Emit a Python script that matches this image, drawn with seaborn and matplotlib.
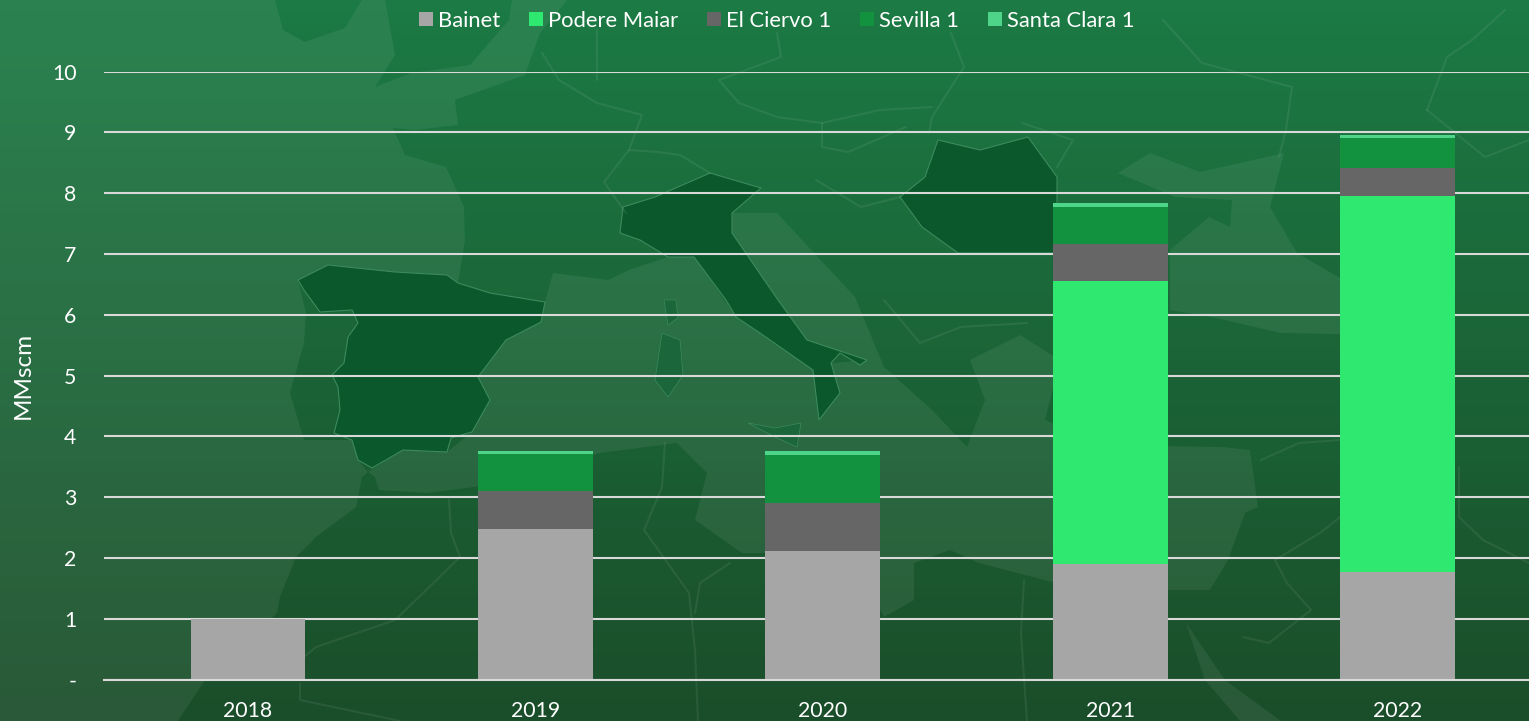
"""Stacked biomethane volumes per plant over a dark green map background."""

import matplotlib

matplotlib.use("Agg")

import matplotlib.pyplot as plt
import numpy as np
import seaborn as sns
from matplotlib.patches import Polygon

years = ["2018", "2019", "2020", "2021", "2022"]
bainet = [1.00, 2.48, 2.11, 1.90, 1.76]
podere_maiar = [0, 0, 0, 4.65, 6.19]
el_ciervo = [0, 0.62, 0.79, 0.61, 0.47]
sevilla = [0, 0.61, 0.79, 0.61, 0.49]
santa_clara = [0, 0.05, 0.07, 0.07, 0.04]

series_names = ["Bainet", "Podere Maiar", "El Ciervo 1", "Sevilla 1", "Santa Clara 1"]
series_values = [bainet, podere_maiar, el_ciervo, sevilla, santa_clara]
series_colors = ["#A6A6A6", "#2EE86F", "#666666", "#12923F", "#4FD58A"]
y_ticks = [0, 1, 2, 3, 4, 5, 6, 7, 8, 9, 10]
y_tick_labels = ["-", "1", "2", "3", "4", "5", "6", "7", "8", "9", "10"]

# background map, rough outlines in picture pixels
spain = [(298, 280), (328, 265), (395, 272), (447, 275), (458, 283), (490, 293), (545, 302), (541, 322),
         (506, 340), (478, 377), (490, 400), (472, 432), (451, 438), (447, 452), (403, 450), (372, 468),
         (358, 460), (352, 440), (334, 433), (340, 410), (338, 387), (332, 375), (344, 363), (348, 337),
         (358, 323), (352, 310), (320, 312), (304, 290)]
italy = [(620, 233), (623, 207), (655, 197), (710, 173), (761, 188), (732, 213), (732, 233), (778, 300),
         (807, 340), (837, 350), (867, 360), (860, 365), (840, 353), (831, 363), (840, 393), (819, 420),
         (813, 370), (760, 333), (736, 317), (726, 300), (694, 257), (668, 257), (640, 240)]
romania = [(925, 177), (938, 140), (980, 150), (1028, 137), (1057, 177), (1057, 253), (958, 253), (922, 227),
           (900, 197)]
sicily = [(748, 423), (775, 428), (801, 423), (797, 447), (775, 437)]
sardinia = [(662, 333), (680, 340), (683, 375), (668, 397), (655, 380)]
corsica = [(664, 300), (676, 300), (678, 318), (668, 325)]
dark_shapes = [spain, italy, romania]
island_shapes = [sicily, sardinia, corsica]

atlantic = [(0, 0), (275, 0), (283, 30), (305, 42), (345, 28), (362, 0), (385, 0), (395, 55), (375, 87), (411, 73),
            (470, 65), (509, 20), (512, 0), (567, 0), (540, 33), (525, 75), (455, 100), (458, 125), (415, 130),
            (393, 128), (405, 155), (446, 167), (464, 207), (465, 240), (458, 283), (447, 275), (395, 272),
            (328, 265), (298, 280), (306, 313), (304, 343), (290, 393), (304, 440), (352, 440), (358, 460),
            (368, 472), (362, 477), (356, 507), (316, 537), (296, 557), (280, 597), (277, 613), (205, 680),
            (178, 721), (0, 721)]
mediterranean = [(368, 472), (403, 450), (447, 452), (472, 432), (490, 400), (478, 377), (506, 340), (545, 302),
                 (553, 273), (608, 280), (629, 270), (668, 257), (694, 257), (736, 317), (813, 370), (819, 420),
                 (840, 393), (831, 363), (867, 360), (807, 340), (778, 300), (732, 233), (732, 213), (777, 213),
                 (855, 297), (884, 367), (932, 410), (967, 447), (985, 400), (970, 360), (1020, 335), (1060, 360),
                 (1045, 420), (1100, 445), (1222, 447), (1250, 450), (1258, 507), (1245, 513), (1228, 560),
                 (1210, 590), (1169, 590), (1056, 583), (979, 563), (950, 550), (914, 563), (914, 600), (884, 617),
                 (860, 570), (766, 553), (742, 553), (695, 520), (707, 473), (677, 443), (600, 453), (474, 487),
                 (427, 493), (379, 490), (375, 477)]
black_sea = [(1170, 310), (1170, 250), (1209, 217), (1230, 227), (1232, 200), (1175, 197), (1118, 173), (1150, 153),
             (1200, 172), (1284, 153), (1270, 207), (1297, 253), (1338, 277), (1420, 320), (1380, 335),
             (1281, 333), (1216, 318)]
red_sea = [(1186, 623), (1225, 680), (1281, 721), (1240, 721), (1205, 680)]
sea_shapes = [atlantic, mediterranean, black_sea, red_sea]

border_lines = [
    [(449, 500), (451, 533), (460, 557), (419, 597), (395, 620), (316, 647), (304, 657)],
    [(300, 684), (300, 700), (400, 721)],
    [(665, 443), (662, 487), (644, 530), (689, 593), (695, 650), (698, 721)],
    [(1024, 580), (1021, 633), (1027, 721)],
    [(730, 563), (700, 583), (695, 613)],
    [(1340, 517), (1320, 533), (1275, 560), (1287, 583), (1311, 610), (1269, 643), (1243, 637)],
    [(1261, 460), (1299, 443), (1340, 440)],
    [(1459, 467), (1459, 517), (1483, 540), (1529, 563)],
    [(542, 53), (559, 80), (597, 103), (642, 115), (629, 150), (604, 182), (626, 213)],
    [(629, 150), (658, 152), (680, 155), (710, 173)],
    [(597, 30), (597, 80)],
    [(777, 33), (781, 57), (719, 80), (739, 103), (777, 117), (822, 123), (880, 110), (932, 107)],
    [(951, 33), (964, 67), (932, 117), (929, 133)],
    [(1163, 20), (1202, 63), (1292, 87), (1286, 130), (1279, 157)],
    [(1022, 123), (1073, 140), (1057, 167)],
    [(822, 123), (822, 147), (848, 152), (906, 127)],
    [(816, 180), (861, 207), (900, 197)],
    [(1427, 110), (1447, 57), (1472, 40), (1505, 10)],
    [(1427, 110), (1485, 157), (1529, 140)],
    [(884, 300), (920, 343), (961, 327), (1027, 323)],
]

sns.set_theme(style="white")
plt.rcParams["font.family"] = ["Lato", "DejaVu Sans"]

fig = plt.figure(figsize=(15.29, 7.21), dpi=100)

bg = fig.add_axes([0, 0, 1, 1], zorder=0)
top = np.array([0x1C, 0x7A, 0x44]) / 255
bottom = np.array([0x1A, 0x4E, 0x2A]) / 255
fade = np.linspace(0, 1, 64)[:, None, None]
bg.imshow(top + (bottom - top) * fade, extent=(0, 1529, 721, 0), aspect="auto")
for shape in sea_shapes:
    bg.add_patch(Polygon(shape, closed=True, fc="white", ec="none", alpha=0.065))
for shape in dark_shapes:
    bg.add_patch(Polygon(shape, closed=True, fc="#0B582D", ec="#3C8A5E", lw=0.8))
for shape in island_shapes:
    bg.add_patch(Polygon(shape, closed=True, fc="#1B663A", ec="#3C8A5E", lw=0.5))
for line in border_lines:
    xs, ys = zip(*line)
    bg.plot(xs, ys, color="white", alpha=0.07, lw=1.5)
bg.set_xlim(0, 1529)
bg.set_ylim(721, 0)
bg.axis("off")

# the last category band runs past the right edge of the picture
ax = fig.add_axes([104.3 / 1529, 1 - 679.5 / 721, 1437 / 1529, 608 / 721], zorder=1)
ax.patch.set_alpha(0)

base = np.zeros(len(years))
for name, values, color in zip(series_names, series_values, series_colors):
    sns.barplot(x=years, y=values, bottom=base, color=color, saturation=1, width=0.4, label=name,
                linewidth=0, legend=False, ax=ax)
    base = base + np.array(values)

ax.set_xlim(-0.5, 4.5)
ax.set_ylim(0, 10)
ax.set_yticks(y_ticks)
ax.set_yticklabels(y_tick_labels)
ax.set_axisbelow(True)
ax.grid(axis="y", color="#D9D9D9", linewidth=1.5)
ax.grid(axis="x", visible=False)
ax.tick_params(axis="y", length=0, pad=20, labelsize=15.3, labelcolor="white")
ax.tick_params(axis="x", length=0, pad=15.5, labelsize=15.3, labelcolor="white")
for side in ["top", "left", "right"]:
    ax.spines[side].set_visible(False)
ax.spines["bottom"].set_color("#D9D9D9")
ax.spines["bottom"].set_linewidth(1.5)
ax.spines["bottom"].set_zorder(5)
ax.set_xlabel("")
ax.set_ylabel("")

fig.text(23 / 1529, 1 - 375 / 721, "MMscm", rotation=90, ha="center", va="center", color="white", fontsize=17.5)

handles, labels = ax.get_legend_handles_labels()
fig.legend(handles, labels, ncols=5, frameon=False, loc="center", bbox_to_anchor=(776.5 / 1529, 1 - 21 / 721),
           fontsize=15.8, labelcolor="white", handlelength=0.63, handleheight=0.63, handletextpad=0.23,
           columnspacing=1.32, borderpad=0, borderaxespad=0)

fig.savefig("out.png", dpi=100)
plt.close(fig)
